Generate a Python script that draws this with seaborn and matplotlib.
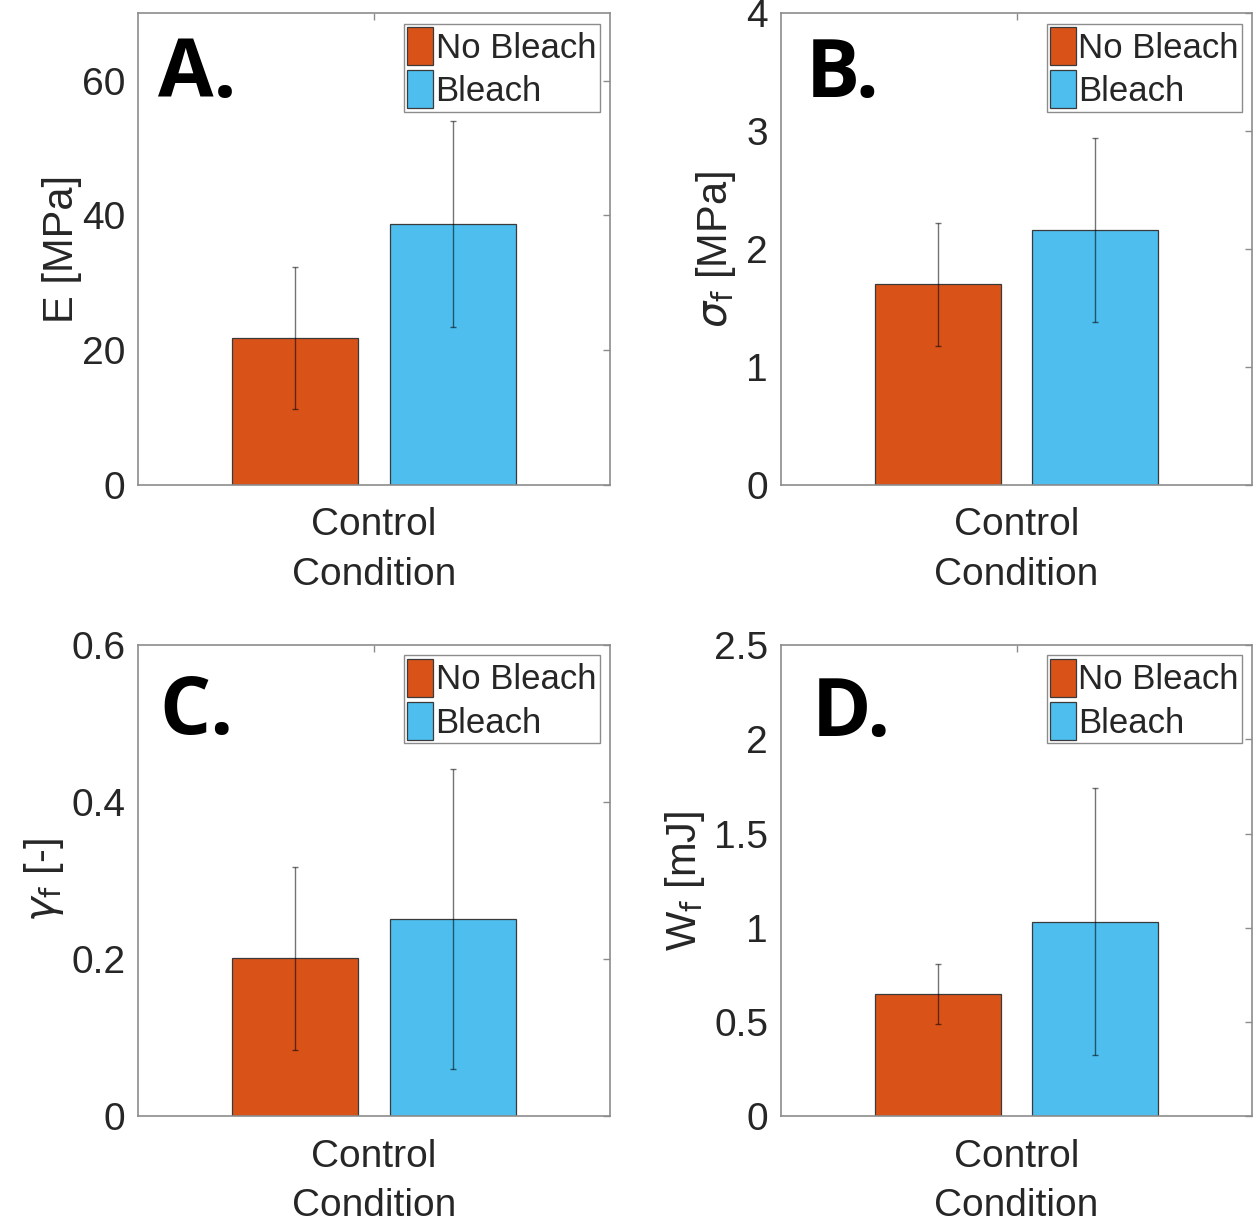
import pandas as pd
import seaborn as sns
import matplotlib.pyplot as plt
from matplotlib.ticker import FuncFormatter

condition = ['Control']
treatments = ['No Bleach', 'Bleach']
colors = ['#D95319', '#4DBEEE']

# means and standard deviations
E_mean = [21.8, 38.8]
E_sd = [10.5, 15.3]
sigma_mean = [1.70, 2.16]
sigma_sd = [0.52, 0.78]
gamma_mean = [0.201, 0.251]
gamma_sd = [0.116, 0.191]
W_mean = [0.648, 1.033]
W_sd = [0.161, 0.706]

panels = [
    ('A.', E_mean, E_sd, 'E [MPa]', (0, 70), [0, 20, 40, 60]),
    ('B.', sigma_mean, sigma_sd, r'$\sigma_{\mathrm{f}}$ [MPa]', (0, 4), [0, 1, 2, 3, 4]),
    ('C.', gamma_mean, gamma_sd, r'$\gamma_{\mathrm{f}}$ [-]', (0, 0.6), [0, 0.2, 0.4, 0.6]),
    ('D.', W_mean, W_sd, r'W$_{\mathrm{f}}$ [mJ]', (0, 2.5), [0, 0.5, 1, 1.5, 2, 2.5]),
]

sns.set_style('white')
plt.rcParams['font.family'] = ['Liberation Sans', 'DejaVu Sans']
plt.rcParams['mathtext.fontset'] = 'dejavusans'

txt = '#262626'
box = '#8c8c8c'

fig = plt.figure(figsize=(12.55, 12.24), dpi=100)
pos = [(0.110, 0.604), (0.622, 0.604), (0.110, 0.088), (0.622, 0.088)]
letter_xy = [(0.042, 0.822), (0.053, 0.822), (0.046, 0.812), (0.066, 0.808)]
ylab_x = [-0.118, -0.090, -0.152, -0.157]

for i, (letter, means, sds, ylab, ylim, yticks) in enumerate(panels):
    ax = fig.add_axes([pos[i][0], pos[i][1], 0.376, 0.385])
    df = pd.DataFrame({'Condition': condition * len(treatments),
                       'Treatment': treatments,
                       'value': means})
    sns.barplot(data=df, x='Condition', y='value', hue='Treatment',
                hue_order=treatments, palette=colors, width=0.667, gap=0.2,
                errorbar=None, edgecolor='#3a3a3a', linewidth=0.9,
                saturation=1, ax=ax)

    bars = sorted([p for p in ax.patches if p.get_height() > 0],
                  key=lambda p: p.get_x())
    for k, bar in enumerate(bars):
        xc = bar.get_x() + bar.get_width() / 2
        ax.errorbar(xc, means[k], yerr=sds[k], fmt='none', ecolor='black',
                    alpha=0.55, elinewidth=1.0, capsize=2, capthick=1.0, zorder=5)

    ax.set_xlim(-0.5, 0.5)
    ax.set_ylim(*ylim)
    ax.set_yticks(yticks)
    ax.yaxis.set_major_formatter(FuncFormatter(lambda v, p: f'{v:g}'))
    ax.set_xlabel('Condition', fontsize=28, color=txt, labelpad=10)
    ax.set_ylabel(ylab, fontsize=30, color=txt)
    ax.yaxis.set_label_coords(ylab_x[i], 0.5)
    ax.tick_params(axis='x', pad=16)
    ax.tick_params(axis='y', pad=9)
    ax.tick_params(direction='in', top=True, right=True, length=5, width=1,
                   color=box, labelsize=28, labelcolor=txt)
    for sp in ax.spines.values():
        sp.set_visible(True)
        sp.set_color(box)
        sp.set_linewidth(1.2)

    handles, labels = ax.get_legend_handles_labels()
    ax.legend(handles, labels, loc='upper right', fontsize=25, frameon=True,
              fancybox=False, edgecolor=box, framealpha=1, borderpad=0.1,
              borderaxespad=0.3, handlelength=0.75, handleheight=1.3,
              handletextpad=0.06, labelspacing=0.15)

    ax.text(letter_xy[i][0], letter_xy[i][1], letter, transform=ax.transAxes,
            fontsize=58, fontweight='bold', family='Open Sans', color='black',
            va='baseline', ha='left')

fig.savefig('out.png', dpi=100)
